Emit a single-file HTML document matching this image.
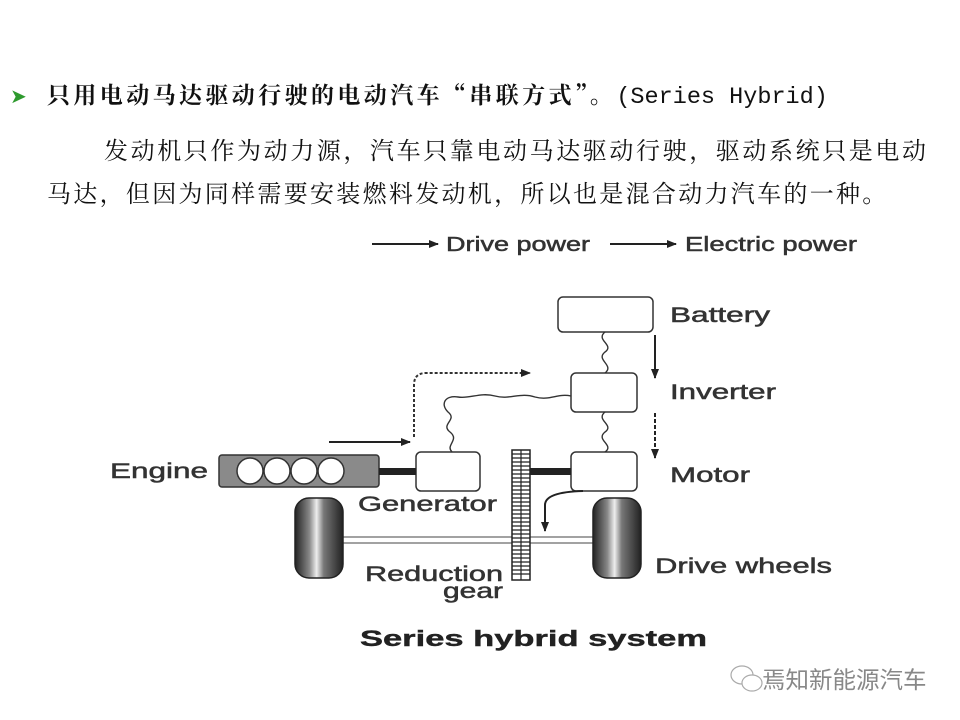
<!DOCTYPE html>
<html><head><meta charset="utf-8"><style>
html,body{margin:0;padding:0;background:#fff;}
body{width:960px;height:720px;position:relative;overflow:hidden;}
.t{position:absolute;white-space:nowrap;font-family:"Noto Serif CJK SC","Liberation Serif",serif;color:#111;}
</style></head><body>
<div class="t" style="left:10px;top:80px;font-size:20px;color:#2e9a2e;">&#10148;</div>
<div class="t" style="left:47px;top:77px;font-size:23px;letter-spacing:3.4px;font-weight:bold;">只用电动马达驱动行驶的电动汽车“串联方式”。<span style="font-family:'Liberation Mono',monospace;font-size:23.5px;letter-spacing:0;font-weight:normal">(Series Hybrid)</span></div>
<div class="t" style="left:104px;top:131px;font-size:24px;letter-spacing:2.6px;">发动机只作为动力源，汽车只靠电动马达驱动行驶，驱动系统只是电动</div>
<div class="t" style="left:47px;top:174px;font-size:24px;letter-spacing:2.3px;">马达，但因为同样需要安装燃料发动机，所以也是混合动力汽车的一种。</div>

<svg width="960" height="720" style="position:absolute;left:0;top:0" xmlns="http://www.w3.org/2000/svg" font-family="Liberation Sans, Arial, sans-serif">
<defs>
<marker id="ah" markerWidth="10" markerHeight="8" refX="9" refY="4" orient="auto" markerUnits="userSpaceOnUse"><path d="M0,0 L10,4 L0,8 Z" fill="#222"/></marker>
<linearGradient id="wh" x1="0" x2="1" y1="0" y2="0">
<stop offset="0" stop-color="#222"/><stop offset="0.3" stop-color="#888"/><stop offset="0.45" stop-color="#eee"/><stop offset="0.6" stop-color="#777"/><stop offset="1" stop-color="#222"/></linearGradient>
</defs>
<g font-size="20" fill="#333" stroke="#333" stroke-width="0.5">
<line x1="372" y1="244" x2="438" y2="244" stroke="#222" stroke-width="2" marker-end="url(#ah)"/>
<text x="446" y="251" textLength="144" lengthAdjust="spacingAndGlyphs">Drive power</text>
<line x1="610" y1="244" x2="676" y2="244" stroke="#222" stroke-width="2" marker-end="url(#ah)"/>
<text x="685" y="251" textLength="172" lengthAdjust="spacingAndGlyphs">Electric power</text>
</g>
<rect x="558" y="297" width="95" height="35" rx="5" fill="#fff" stroke="#333" stroke-width="1.5"/>
<rect x="571" y="373" width="66" height="39" rx="5" fill="#fff" stroke="#333" stroke-width="1.5"/>
<rect x="571" y="452" width="66" height="39" rx="5" fill="#fff" stroke="#333" stroke-width="1.5"/>
<rect x="416" y="452" width="64" height="39" rx="5" fill="#fff" stroke="#333" stroke-width="1.5"/>
<rect x="219" y="455" width="160" height="32" rx="3" fill="#8a8a8a" stroke="#333" stroke-width="1.5"/>
<circle cx="250" cy="471" r="13" fill="#fff" stroke="#333" stroke-width="1.5"/>
<circle cx="277" cy="471" r="13" fill="#fff" stroke="#333" stroke-width="1.5"/>
<circle cx="304" cy="471" r="13" fill="#fff" stroke="#333" stroke-width="1.5"/>
<circle cx="331" cy="471" r="13" fill="#fff" stroke="#333" stroke-width="1.5"/>
<rect x="379" y="468" width="37" height="7" fill="#222"/>
<rect x="530" y="468" width="41" height="7" fill="#222"/>
<rect x="343" y="537" width="250" height="6" fill="#fff" stroke="#444" stroke-width="1"/>
<rect x="512" y="450" width="18" height="130" fill="#fff" stroke="#222" stroke-width="1.5"/>
<g stroke="#222" stroke-width="1.2">
<path d="M512,454H530M512,458H530M512,462H530M512,466H530M512,470H530M512,474H530M512,478H530M512,482H530M512,486H530M512,490H530M512,494H530M512,498H530M512,502H530M512,506H530M512,510H530M512,514H530M512,518H530M512,522H530M512,526H530M512,530H530M512,534H530M512,538H530M512,542H530M512,546H530M512,550H530M512,554H530M512,558H530M512,562H530M512,566H530M512,570H530M512,574H530"/>
<line x1="521" y1="450" x2="521" y2="580"/>
</g>
<rect x="295" y="498" width="48" height="80" rx="14" fill="url(#wh)" stroke="#222" stroke-width="1.5"/>
<rect x="593" y="498" width="48" height="80" rx="14" fill="url(#wh)" stroke="#222" stroke-width="1.5"/>
<g fill="none" stroke="#333" stroke-width="1.4">
<path d="M605,332 C595,340 615,345 605,352 C595,360 615,365 605,373"/>
<path d="M605,412 C595,420 615,425 605,432 C595,440 615,445 605,452"/>
<path d="M452,452 C445,445 460,440 450,432 C440,424 458,420 448,412 C440,404 445,395 458,397 C470,399 480,392 495,396 C510,400 520,392 535,397 C550,401 558,393 571,396"/>
</g>
<line x1="329" y1="442" x2="410" y2="442" stroke="#222" stroke-width="2" marker-end="url(#ah)"/>
<path d="M414,437 V385 Q414,373 426,373 H530" fill="none" stroke="#333" stroke-width="2" stroke-dasharray="3,2" marker-end="url(#ah)"/>
<line x1="655" y1="335" x2="655" y2="378" stroke="#222" stroke-width="2" marker-end="url(#ah)"/>
<line x1="655" y1="413" x2="655" y2="458" stroke="#222" stroke-width="2" stroke-dasharray="4,2" marker-end="url(#ah)"/>
<path d="M583,491 Q545,492 545,505 V531" fill="none" stroke="#222" stroke-width="2" marker-end="url(#ah)"/>
<g font-size="21" fill="#333" stroke="#333" stroke-width="0.5">
<text x="670" y="322" textLength="100" lengthAdjust="spacingAndGlyphs">Battery</text>
<text x="670" y="399" textLength="106" lengthAdjust="spacingAndGlyphs">Inverter</text>
<text x="670" y="482" textLength="80" lengthAdjust="spacingAndGlyphs">Motor</text>
<text x="655" y="573" textLength="177" lengthAdjust="spacingAndGlyphs">Drive wheels</text>
<text x="110" y="478" textLength="98" lengthAdjust="spacingAndGlyphs">Engine</text>
<text x="358" y="511" textLength="139" lengthAdjust="spacingAndGlyphs">Generator</text>
<text x="365" y="581" textLength="138" lengthAdjust="spacingAndGlyphs">Reduction</text>
<text x="443" y="598" textLength="60" lengthAdjust="spacingAndGlyphs">gear</text>
</g>
<text x="360" y="646" font-size="22" font-weight="bold" fill="#222" stroke="#222" stroke-width="0.4" textLength="347" lengthAdjust="spacingAndGlyphs">Series hybrid system</text>
<g fill="none" stroke="#aaa" stroke-width="1.2">
<ellipse cx="742" cy="675" rx="11" ry="9"/>
<ellipse cx="752" cy="683" rx="10" ry="8" fill="#fff"/>
</g>
<text x="762" y="688" font-size="23.5" fill="#888" font-family="Liberation Sans, Noto Sans CJK SC, sans-serif">焉知新能源汽车</text>
</svg>
</body></html>
